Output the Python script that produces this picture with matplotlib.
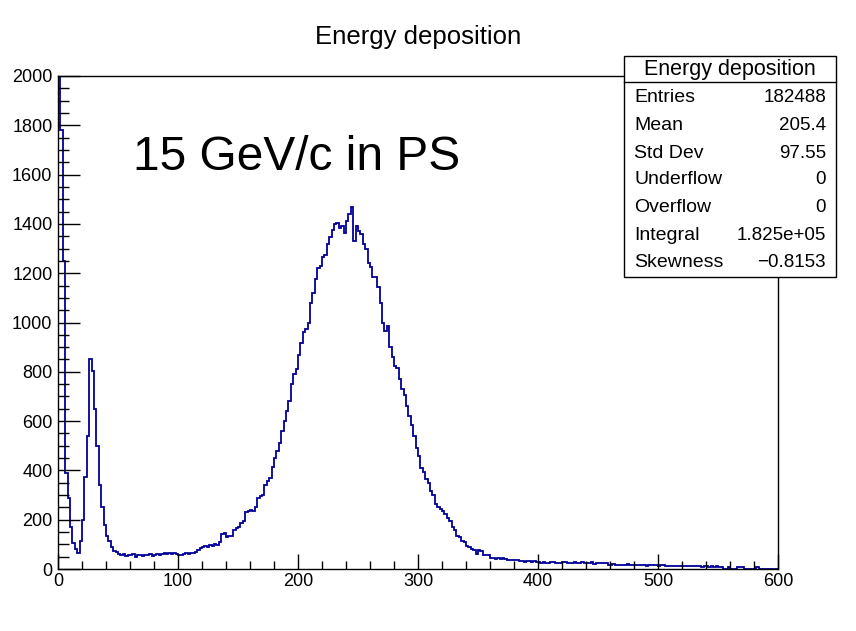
import numpy as np
import matplotlib.pyplot as plt
from matplotlib.patches import Rectangle
from matplotlib.lines import Line2D
from matplotlib.ticker import MultipleLocator

plt.rcParams['font.family'] = ['Liberation Sans', 'DejaVu Sans']

# bin edges: 300 bins of width 2 from 0 to 600
bin_width = 2
edges = np.arange(0, 600 + bin_width, bin_width)

# counts, segment by segment
low_peak = [2400, 1780, 1250, 390, 290, 170, 105, 80, 65, 115, 200, 375, 540,
            850, 805, 650, 500, 340, 250, 180, 135, 115, 90, 75, 70]           # 0-50
plateau = [62, 55, 60, 52, 58, 55, 60, 50, 57, 55, 52, 58, 55, 60, 54, 58, 62,
           56, 60, 65, 62, 66, 60, 64, 62, 58, 56, 60, 64, 62, 66, 64, 70, 78, 85]  # 50-120
rise = [88, 93, 90, 98, 95, 102, 98, 110, 140, 146, 128, 135, 132, 158, 165, 172,
        186, 195, 230, 235, 240, 236, 250, 290, 295, 300, 340, 355, 370, 415, 450,
        480, 510, 560, 600, 640, 680, 750, 790, 810]                          # 120-200
peak = [870, 915, 960, 975, 1000, 1080, 1120, 1175, 1220, 1230, 1265, 1275, 1320,
        1345, 1375, 1400, 1405, 1385, 1390, 1365, 1410, 1440, 1470, 1330, 1390,
        1370, 1360, 1320, 1300, 1240]                                         # 200-260
fall = [1226, 1186, 1186, 1145, 1080, 1000, 965, 985, 900, 860, 825, 815, 770,
        730, 705, 660, 620, 585, 540, 490, 460, 410, 395, 365, 350, 315, 300, 265,
        250, 245, 235, 225, 205, 195, 170, 160, 135, 128, 112, 108]           # 260-340
tail1 = [92, 90, 80, 76, 60, 78, 74, 58, 56, 55, 46, 44, 42, 45, 40, 44, 42, 36,
         38, 35, 38, 36, 32, 32, 30, 34, 31, 29, 33, 30]                      # 340-400
tail2 = [27, 25, 28, 26, 24, 27, 29, 25, 26, 23, 27, 28, 24, 26, 25, 27, 23, 26,
         28, 25, 24, 26, 27, 22, 25, 26, 24, 23, 25]                          # 400-458
tail3 = [18, 16, 19, 17, 15, 18, 16, 17, 19, 15, 16, 18, 17, 15, 16, 18, 14, 16,
         17, 15, 16, 14, 15, 16]                                              # 458-506
tail4 = [13, 12, 14, 11, 12, 13, 12, 11, 13, 12, 11, 12, 13, 11, 12, 10, 12]  # 506-540
tail5 = [11, 10, 12, 9, 11, 10, 10, 0, 0, 8, 0, 0, 0, 9, 8, 9, 0, 0, 0, 0, 0, 8,
         0, 0, 0, 0, 0, 0, 0, 0]                                              # 540-600

counts = np.array(low_peak + plateau + rise + peak + fall + tail1 + tail2 + tail3 + tail4 + tail5)

stats_labels = ['Entries', 'Mean', 'Std Dev', 'Underflow', 'Overflow', 'Integral', 'Skewness']
stats_values = ['182488', '205.4', '97.55', '0', '0', '1.825e+05', '\u22120.8153']

W, H = 856, 631
fig = plt.figure(figsize=(W / 100, H / 100), dpi=100)
ax = fig.add_axes([58 / W, 1 - 569 / H, 720 / W, 493 / H])

ax.stairs(counts, edges, color='#00009A', linewidth=1.3)
ax.set_xlim(0, 600)
ax.set_ylim(0, 2000)

ax.xaxis.set_major_locator(MultipleLocator(100))
ax.xaxis.set_minor_locator(MultipleLocator(20))
ax.yaxis.set_major_locator(MultipleLocator(200))
ax.yaxis.set_minor_locator(MultipleLocator(50))
ax.tick_params(axis='both', which='both', direction='in', top=False, right=False,
               labelsize=13, width=1)
ax.tick_params(axis='x', which='major', length=11, pad=3)
ax.tick_params(axis='x', which='minor', length=6)
ax.tick_params(axis='y', which='major', length=16, pad=4)
ax.tick_params(axis='y', which='minor', length=8)
for s in ax.spines.values():
    s.set_linewidth(1)

fig.text(418 / W, 1 - 37 / H, 'Energy deposition', ha='center', va='center', fontsize=18.5)
fig.text(133 / W, 1 - 157 / H, '15 GeV/c in PS', ha='left', va='center', fontsize=34.5)

# stats box
bx0, by0, bx1, by1 = 624, 56, 836, 277
fig.add_artist(Rectangle((bx0 / W, 1 - by1 / H), (bx1 - bx0) / W, (by1 - by0) / H,
                         transform=fig.transFigure, facecolor='white',
                         edgecolor='black', linewidth=1, zorder=5))
fig.add_artist(Line2D([bx0 / W, bx1 / W], [1 - 82 / H, 1 - 82 / H],
                      transform=fig.transFigure, color='black', linewidth=1, zorder=6))
fig.text((bx0 + bx1) / 2 / W, 1 - 69 / H, 'Energy deposition', ha='center', va='center',
         fontsize=15.5, zorder=7)
row_y = [98, 125, 153, 180, 208, 235, 263]
for lab, val, yy in zip(stats_labels, stats_values, row_y):
    fig.text(634 / W, 1 - yy / H, lab, ha='left', va='center', fontsize=14, zorder=7)
    fig.text(826 / W, 1 - yy / H, val, ha='right', va='center', fontsize=13.5, zorder=7)

fig.savefig('out.png', dpi=100)
